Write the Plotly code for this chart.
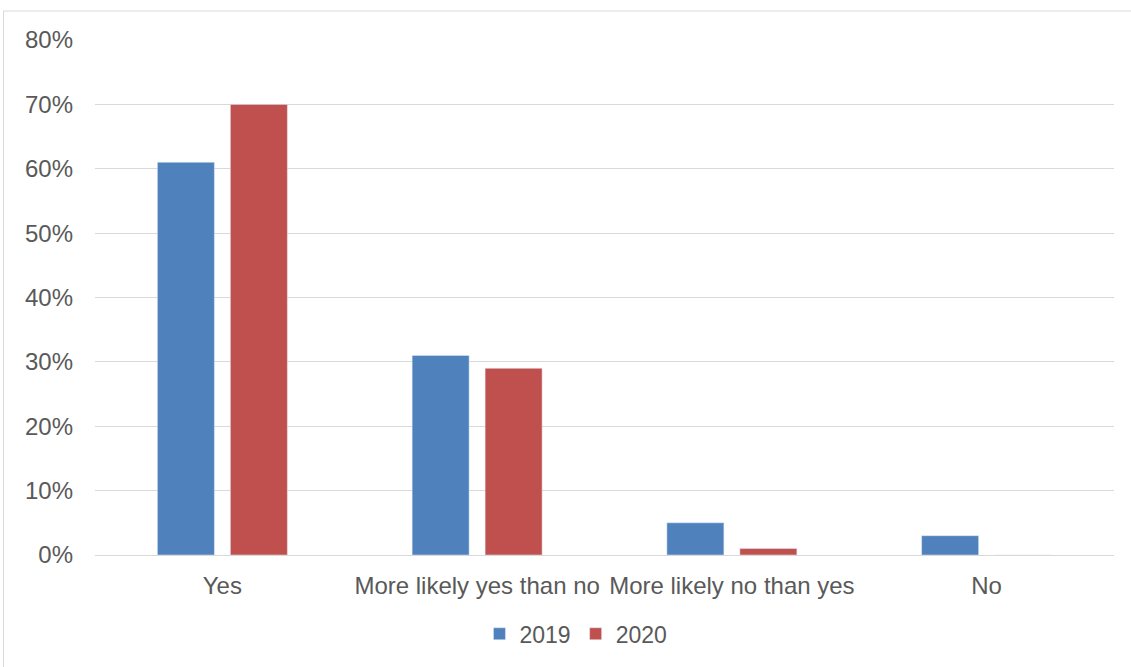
import plotly.graph_objects as go

categories = ["Yes", "More likely yes than no", "More likely no than yes", "No"]
series_2019 = [0.61, 0.31, 0.05, 0.03]
series_2020 = [0.70, 0.29, 0.01, 0.0]
tick_vals = [0, 0.1, 0.2, 0.3, 0.4, 0.5, 0.6, 0.7, 0.8]
tick_text = ["0%", "10%", "20%", "30%", "40%", "50%", "60%", "70%", "80%"]

font = "Liberation Sans, Arial, sans-serif"

fig = go.Figure()
fig.add_trace(go.Bar(name="2019", x=categories, y=series_2019, marker_color="#4f81bd"))
fig.add_trace(go.Bar(name="2020", x=categories, y=series_2020, marker_color="#c0504d"))

fig.update_layout(
    width=1131, height=667,
    margin=dict(l=95, r=17, t=40, b=112),
    paper_bgcolor="white", plot_bgcolor="white",
    barmode="group", bargap=0.427, bargroupgap=0.219,
    font=dict(family=font, size=24, color="#595959"),
    showlegend=True,
    legend=dict(orientation="h", x=0.472, xanchor="center", y=-0.153, yanchor="middle",
                font=dict(size=23, color="#595959"), itemwidth=30, traceorder="normal"),
    xaxis=dict(showgrid=False, showline=False, ticks="", ticklabelstandoff=14,
               tickfont=dict(size=24, color="#595959")),
    yaxis=dict(range=[0, 0.8], tickvals=tick_vals, ticktext=tick_text, showgrid=True,
               gridcolor="#d9d9d9", gridwidth=1, zeroline=True, zerolinecolor="#d9d9d9",
               zerolinewidth=1, showline=False, ticks="", ticklabelstandoff=21,
               tickfont=dict(size=24, color="#595959")),
    shapes=[
        dict(type="line", xref="paper", yref="paper", x0=-0.0898, x1=-0.0898, y0=1.0563, y1=-0.3,
             line=dict(color="#d9d9d9", width=1)),
        dict(type="line", xref="paper", yref="paper", x0=-0.0898, x1=1.1, y0=1.0563, y1=1.0563,
             line=dict(color="#d9d9d9", width=1)),
    ],
)

fig.write_html("out.html")
